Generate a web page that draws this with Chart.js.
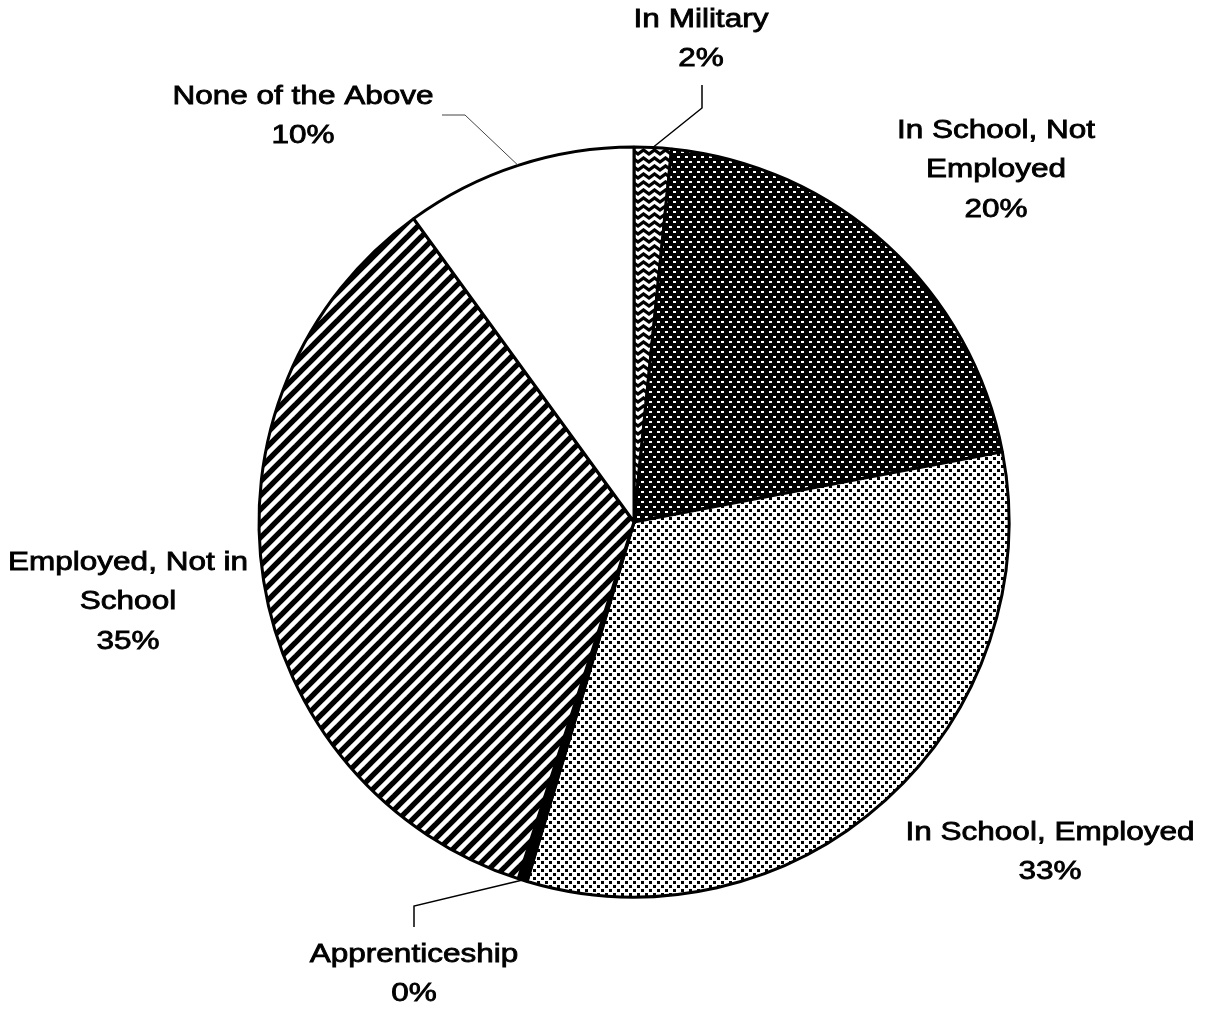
<!DOCTYPE html>
<html>
<head>
<meta charset="utf-8">
<script src="https://cdn.jsdelivr.net/npm/chart.js@4.4.0/dist/chart.umd.min.js"></script>
<style>
  html, body { margin: 0; padding: 0; background: #fff; }
</style>
</head>
<body>
<canvas id="chart" width="1205" height="1011"></canvas>
<script>
// data
const categories = ['In Military', 'In School, Not Employed', 'In School, Employed', 'Apprenticeship', 'Employed, Not in School', 'None of the Above']
const labelLines = [['In Military'], ['In School, Not', 'Employed'], ['In School, Employed'], ['Apprenticeship'], ['Employed, Not in', 'School'], ['None of the Above']]
const shares = [1.6, 20.4, 32.6, 0.4, 35.0, 10.0]

// where each label sits (center x, first line y) and leader elbows
const labelPos = [[701, 20], [996, 131], [1050, 833], [414, 955], [128, 563], [303, 97]]
const leaders = [
  [[702, 85], [702, 108]],
  null,
  null,
  [[414, 927], [414, 906]],
  null,
  [[442, 115], [465, 115]]
]

function tile(w, h, draw) {
  const c = document.createElement('canvas')
  c.width = w; c.height = h
  draw(c.getContext('2d'), w, h)
  return document.createElement('canvas').getContext('2d').createPattern(c, 'repeat')
}

const waves = tile(11, 8, (g, w, h) => {
  g.fillStyle = '#000'; g.fillRect(0, 0, w, h)
  g.strokeStyle = '#fff'; g.lineWidth = 3.2
  for (const dy of [-8, 0, 8]) {
    g.beginPath()
    g.moveTo(-5.5, 2 + dy); g.lineTo(0, 6 + dy); g.lineTo(5.5, 2 + dy); g.lineTo(11, 6 + dy); g.lineTo(16.5, 2 + dy)
    g.stroke()
  }
})
const dashes = tile(8, 10, (g, w, h) => {
  g.fillStyle = '#000'; g.fillRect(0, 0, w, h)
  g.fillStyle = '#fff'
  g.fillRect(1, 1, 3, 2); g.fillRect(5, 6, 3, 2)
})
const dots = tile(8, 8, (g, w, h) => {
  g.fillStyle = '#fff'; g.fillRect(0, 0, w, h)
  g.fillStyle = '#000'
  g.fillRect(1, 1, 3, 3); g.fillRect(5, 5, 3, 3)
})
const stripes = tile(14, 14, (g, w, h) => {
  g.fillStyle = '#fff'; g.fillRect(0, 0, w, h)
  g.strokeStyle = '#000'; g.lineWidth = 5.4
  for (const c of [0, 14, 28]) {
    g.beginPath(); g.moveTo(c + 3, -3); g.lineTo(-3, c + 3); g.stroke()
  }
})
const fills = [waves, dashes, dots, '#000', stripes, '#fff']

const FONT = '25px "Liberation Sans", Arial, sans-serif'
const STRETCH = 1.26
const LINE_H = 39.5

const pieLabels = {
  id: 'pieLabels',
  afterDatasetsDraw(chart) {
    const ctx = chart.ctx
    const meta = chart.getDatasetMeta(0)
    const total = shares.reduce((a, b) => a + b, 0)
    ctx.save()
    meta.data.forEach((arc, i) => {
      // leader line from elbow to slice edge
      if (leaders[i]) {
        const p = arc.getProps(['x', 'y', 'startAngle', 'endAngle', 'outerRadius'], true)
        const mid = (p.startAngle + p.endAngle) / 2
        const ex = p.x + Math.cos(mid) * p.outerRadius
        const ey = p.y + Math.sin(mid) * p.outerRadius
        ctx.strokeStyle = i === 5 ? '#444' : '#000'
        ctx.lineWidth = i === 5 ? 1 : 1.5
        ctx.beginPath()
        ctx.moveTo(leaders[i][0][0], leaders[i][0][1])
        ctx.lineTo(leaders[i][1][0], leaders[i][1][1])
        ctx.lineTo(ex, ey)
        ctx.stroke()
      }
      const lines = labelLines[i].concat([Math.round(shares[i] / total * 100) + '%'])
      ctx.font = FONT
      ctx.fillStyle = '#000'
      ctx.strokeStyle = '#000'
      ctx.lineWidth = 0.8
      ctx.textAlign = 'center'
      ctx.textBaseline = 'middle'
      lines.forEach((txt, k) => {
        ctx.save()
        ctx.translate(labelPos[i][0], labelPos[i][1] + k * LINE_H)
        ctx.scale(STRETCH, 1)
        ctx.fillText(txt, 0, 0)
        ctx.strokeText(txt, 0, 0)
        ctx.restore()
      })
    })
    ctx.restore()
  }
}

new Chart(document.getElementById('chart'), {
  type: 'pie',
  data: {
    labels: categories,
    datasets: [{
      data: shares,
      backgroundColor: fills,
      borderColor: '#000',
      borderWidth: 3
    }]
  },
  options: {
    responsive: false,
    animation: false,
    radius: 375,
    layout: { padding: { left: 258, right: 195, top: 146, bottom: 113 } },
    plugins: {
      legend: { display: false },
      tooltip: { enabled: false }
    }
  },
  plugins: [pieLabels]
})
</script>
</body>
</html>
